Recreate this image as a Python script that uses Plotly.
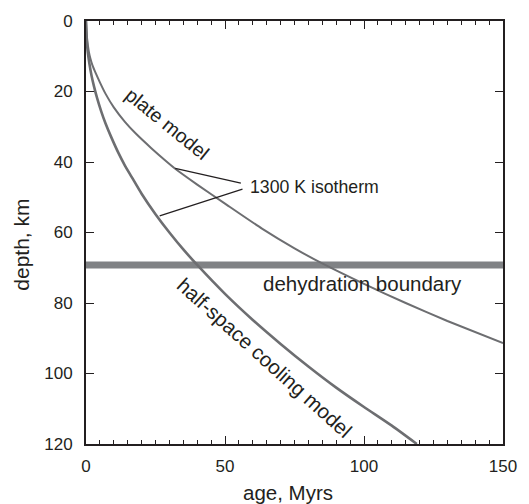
import plotly.graph_objects as go

# Half-space cooling model: 1300 K isotherm depth (km) vs age (Myr)
age_half = [0, 0.3, 0.7, 1.2, 2, 2.9, 4, 5.5, 7, 9, 11.7, 14, 16.4, 20, 25, 30, 35, 40, 50, 60, 70, 80, 90, 100, 110, 119]
depth_half = [0, 6.0, 9.2, 12.0, 15.5, 18.6, 21.9, 25.7, 29.0, 32.8, 37.5, 41.0, 44.2, 49.0, 54.8, 60.0,
              64.8, 69.2, 77.4, 84.8, 91.6, 98.0, 104.0, 109.5, 114.8, 120.0]

# Plate model: 1300 K isotherm depth (km) vs age (Myr)
age_plate = [0, 0.4, 1.0, 1.6, 2.3, 3.5, 5, 7, 10, 14, 18, 23.4, 28, 32.1, 40, 50, 63.3, 75, 85.5, 100, 115, 130, 150]
depth_plate = [0, 5.0, 8.6, 10.7, 12.5, 14.8, 17.4, 20.6, 24.5, 28.6, 32.0, 36.0, 39.2, 41.9, 46.4, 51.8,
               58.9, 64.5, 69.0, 74.6, 80.0, 85.1, 91.4]

dehydration_depth = 69.2
x_ticks = [0, 50, 100, 150]
y_ticks = [0, 20, 40, 60, 80, 100, 120]

# leader lines of the "1300 K isotherm" label
leader_plate = ([32.1, 55.7], [41.8, 46.0])
leader_half = ([26.5, 56.3], [55.3, 47.7])

ink = "#231f20"
curve = "#6d6e71"
band = "#808285"
FONT = "Liberation Sans, Arial, Helvetica, sans-serif"

fig = go.Figure()

fig.add_trace(go.Scatter(x=age_plate, y=depth_plate, mode="lines",
                         line=dict(color=curve, width=2, shape="spline", smoothing=0.5),
                         hoverinfo="skip", showlegend=False))
fig.add_trace(go.Scatter(x=age_half, y=depth_half, mode="lines",
                         line=dict(color=curve, width=2.6, shape="spline", smoothing=0.5),
                         hoverinfo="skip", showlegend=False))
for lx, ly in (leader_plate, leader_half):
    fig.add_trace(go.Scatter(x=lx, y=ly, mode="lines",
                             line=dict(color=ink, width=1.2),
                             hoverinfo="skip", showlegend=False))

fig.add_shape(type="line", xref="x", yref="y", x0=-0.8, x1=150,
              y0=dehydration_depth, y1=dehydration_depth,
              line=dict(color=band, width=7), layer="below")

fig.add_annotation(x=58.4, y=47, xref="x", yref="y", text="1300 K isotherm",
                   showarrow=False, xanchor="left", yanchor="middle",
                   font=dict(family=FONT, size=17.7, color=ink))
fig.add_annotation(x=63, y=74.6, xref="x", yref="y", text="dehydration boundary",
                   showarrow=False, xanchor="left", yanchor="middle",
                   font=dict(family=FONT, size=20.5, color=ink))
fig.add_annotation(x=29.4, y=29.2, xref="x", yref="y", text="plate model",
                   showarrow=False, textangle=39,
                   font=dict(family=FONT, size=19.5, color=ink))
fig.add_annotation(x=64.2, y=95.6, xref="x", yref="y", text="half-space cooling model",
                   showarrow=False, textangle=42,
                   font=dict(family=FONT, size=20.5, color=ink))

# axis titles
fig.add_annotation(x=(293 - 86) / 428, y=-(492 - 444) / 423, xref="paper", yref="paper",
                   text="age, Myrs", showarrow=False, xanchor="center", yanchor="middle",
                   font=dict(family=FONT, size=20.5, color=ink))
fig.add_annotation(x=(19 - 86) / 428, y=(444 - 245) / 423, xref="paper", yref="paper",
                   text="depth, km", showarrow=False, xanchor="center", yanchor="middle",
                   textangle=-90, font=dict(family=FONT, size=21, color=ink))

fig.update_layout(
    width=529, height=504,
    margin=dict(l=86, r=15, t=21, b=60),
    paper_bgcolor="white", plot_bgcolor="white",
    font=dict(family=FONT, size=17, color=ink),
    xaxis=dict(range=[0, 150], tickvals=x_ticks, ticks="inside", ticklen=8, tickwidth=1.2,
               tickcolor=ink, showline=True, linecolor=ink, linewidth=1.6, mirror="ticks",
               showgrid=False, zeroline=False, tickfont=dict(size=17, color=ink),
               ticklabelstandoff=6,
               minor=dict(dtick=5, ticks="inside", ticklen=4, tickwidth=1.1, tickcolor=ink, showgrid=False)),
    yaxis=dict(range=[120, 0], tickvals=y_ticks, ticks="inside", ticklen=8, tickwidth=1.2,
               tickcolor=ink, showline=True, linecolor=ink, linewidth=1.8, mirror="ticks",
               showgrid=False, zeroline=False, tickfont=dict(size=17, color=ink),
               ticklabelstandoff=8),
)

fig.write_html("out.html", config={"displayModeBar": False},
               post_script="document.body.style.margin='0';")
